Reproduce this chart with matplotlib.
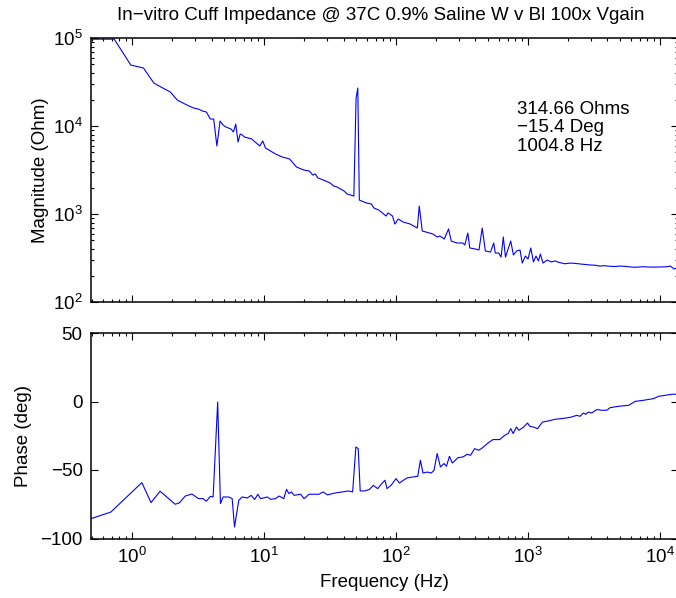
import matplotlib
matplotlib.use("Agg")
import matplotlib.pyplot as plt
from matplotlib.ticker import LogLocator, FixedLocator

plt.rcParams['font.family'] = ['Liberation Sans', 'DejaVu Sans']
plt.rcParams['mathtext.fontset'] = 'custom'
plt.rcParams['mathtext.rm'] = 'Liberation Sans'

# Magnitude trace
mag_freq = [0.488, 0.732, 0.977, 1.22, 1.46, 1.71, 1.95, 2.20, 2.44, 2.69, 2.93, 3.17, 3.42,
            3.66, 3.91, 4.15, 4.39, 4.64, 4.88, 5.13, 5.37, 5.62, 5.86, 6.10, 6.35, 6.59,
            6.84, 7.08, 7.57, 8.06, 8.54, 9.28, 9.77, 10.25, 11.2, 12.2, 13.7, 15.6, 16.6,
            17.6, 20.0, 22.0, 23.4, 24.4, 25.6, 29.3, 31.7, 33.7, 35.6, 38.1, 40.5, 42.5,
            47.9, 49.8, 51.3, 52.7, 60, 65, 68, 74, 84, 87, 94, 98, 104, 113, 128, 145, 150,
            158, 190, 205, 215, 232, 250, 262, 290, 320, 332, 350, 362, 400, 425, 450, 475,
            520, 550, 565, 600, 625, 650, 675, 740, 775, 820, 870, 905, 955, 1000, 1050,
            1100, 1150, 1200, 1240, 1300, 1400, 1500, 1600, 1700, 1800, 1900, 2100, 2300,
            2500, 2700, 3000, 3200, 3500, 3800, 4000, 4500, 5000, 5500, 6000, 6500, 7000,
            7500, 8000, 9000, 10000, 11000, 12000, 12800, 13700]
mag_ohm = [97000, 97000, 49300, 45600, 30800, 27000, 24300, 19700, 18200, 16900, 16000,
           15600, 14800, 14400, 12000, 12000, 5930, 11400, 10300, 9740, 9490, 9250, 8550,
           10500, 6580, 8110, 7900, 7500, 7310, 7120, 6580, 5930, 6760, 5620, 5200, 4810,
           4450, 4220, 3800, 3420, 3160, 3080, 2770, 2850, 2570, 2370, 2250, 2080, 2030,
           1920, 1820, 1690, 1600, 20800, 27000, 1440, 1330, 1300, 1170, 1110, 949, 1030,
           949, 769, 877, 811, 769, 693, 1230, 641, 593, 548, 562, 520, 676, 493, 468, 468,
           444, 608, 411, 400, 390, 693, 380, 370, 468, 360, 360, 324, 548, 324, 493, 342,
           380, 390, 277, 333, 308, 411, 285, 333, 293, 351, 277, 300, 285, 293, 283, 277,
           272, 277, 274, 270, 267, 263, 262, 256, 259, 256, 253, 256, 254, 250, 248, 250,
           252, 250, 249, 250, 251, 256, 237, 250]

# Phase trace
ph_freq = [0.488, 0.69, 1.185, 1.39, 1.63, 2.12, 2.28, 2.53, 2.84, 3.18, 3.45, 3.65, 3.92,
           4.11, 4.45, 4.67, 4.89, 5.40, 5.73, 5.97, 6.43, 6.82, 7.45, 8.0, 8.47, 8.97, 9.4,
           10.6, 11.2, 12.2, 13.0, 14.1, 14.8, 15.4, 16.1, 16.9, 18.9, 20.1, 21.9, 26.1,
           28.0, 30.3, 33.0, 36.0, 39.3, 43.4, 46.9, 49.6, 51.7, 53.5, 57.4, 62.7, 67.2,
           72.6, 77.8, 82.5, 85.4, 91.6, 100, 106, 121, 134, 146, 153, 160, 172, 185, 194,
           205, 217, 231, 241, 254, 267, 295, 321, 347, 367, 394, 422, 443, 498, 543, 610,
           666, 707, 740, 772, 818, 851, 919, 991, 1032, 1095, 1181, 1289, 1424, 1600, 1798,
           2022, 2142, 2339, 2477, 2630, 2738, 2870, 3040, 3318, 3622, 3953, 4189, 4851,
           5779, 6490, 7516, 8955, 9772, 10970, 12330, 13700]
ph_deg = [-85.5, -80.7, -59.2, -73.8, -65.5, -75, -74, -69, -67.5, -70.9, -70.9, -72.8,
          -69.2, -69.7, -0.4, -74.5, -69.7, -69.7, -70.9, -91.6, -72.1, -69.7, -70.4, -68.5,
          -71.6, -67.7, -70.9, -69.7, -71.4, -70.9, -69, -70.9, -64.1, -67.2, -66, -68.5,
          -67.7, -70.9, -67.7, -67.7, -66, -68.2, -67.2, -66.5, -66, -65.3, -66, -33.2,
          -34.4, -65.3, -65.3, -64.3, -61.2, -63.6, -60, -57.5, -63.6, -61.2, -56.3, -59.5,
          -55.8, -55.1, -54.6, -42.9, -52.2, -51.5, -52.2, -50.2, -38, -47.8, -45.3, -47.3,
          -40, -44.9, -41, -40.5, -38.5, -39.3, -34.4, -35.6, -34.4, -30.3, -27.8, -27.8,
          -24.7, -23.4, -19.8, -23.4, -18.6, -21, -19, -15.7, -18.1, -18.6, -19.8, -15,
          -14.2, -13, -12.5, -11.8, -11.3, -10.1, -10.8, -8.4, -9.4, -7.7, -8.4, -5.9, -6.4,
          -6.4, -4.5, -3.5, -2.8, 0.1, 0.9, 2.1, 3.8, 4.5, 5.3, 5.3]

phase_ticks = [-100, -50, 0, 50]
title = "In\u2212vitro Cuff Impedance @ 37C 0.9% Saline W v Bl 100x Vgain"
marker_text = "314.66 Ohms\n\u221215.4 Deg\n1004.8 Hz"

FS = 13.5
W, H = 676, 598


def style_axis(ax):
    ax.tick_params(which='both', direction='in', top=True, right=True,
                   labelsize=FS, width=0.8, pad=6)
    ax.tick_params(which='major', length=5)
    ax.tick_params(which='minor', length=2.5)
    for s in ax.spines.values():
        s.set_linewidth(1.1)


fig = plt.figure(figsize=(W / 100, H / 100), dpi=100)
left = 91 / W
width = 587 / W
ax1 = fig.add_axes([left, 1 - 302 / H, width, 264 / H])
ax2 = fig.add_axes([left, 1 - 538.5 / H, width, 205.5 / H])

ax1.loglog(mag_freq, mag_ohm, color=(0, 0, 1), lw=0.8)
ax1.set_xlim(0.488, 13700)
ax1.set_ylim(1e2, 1e5)
ax1.set_ylabel('Magnitude (Ohm)', fontsize=FS)
ax1.yaxis.set_label_coords(-0.072, 0.5)
ax1.tick_params(axis='x', labelbottom=False)
style_axis(ax1)

ax2.semilogx(ph_freq, ph_deg, color=(0, 0, 1), lw=0.8)
ax2.set_xlim(0.488, 13700)
ax2.set_ylim(-100, 50)
ax2.yaxis.set_major_locator(FixedLocator(phase_ticks))
ax2.set_ylabel('Phase (deg)', fontsize=FS)
ax2.yaxis.set_label_coords(-0.100, 0.5)
ax2.set_xlabel('Frequency (Hz)', fontsize=FS)
ax2.xaxis.set_label_coords(0.5, -0.175)
style_axis(ax2)

for ax in (ax1, ax2):
    ax.xaxis.set_major_locator(LogLocator(base=10, numticks=20))
    ax.xaxis.set_minor_locator(LogLocator(base=10, subs=range(2, 10), numticks=20))

fig.text(381 / W, 1 - 15 / H, title, ha='center', va='center', fontsize=FS)
fig.text(517 / W, 1 - 128 / H, marker_text, ha='left', va='center', fontsize=FS,
         linespacing=1.15)

fig.savefig('out.png', dpi=100)
